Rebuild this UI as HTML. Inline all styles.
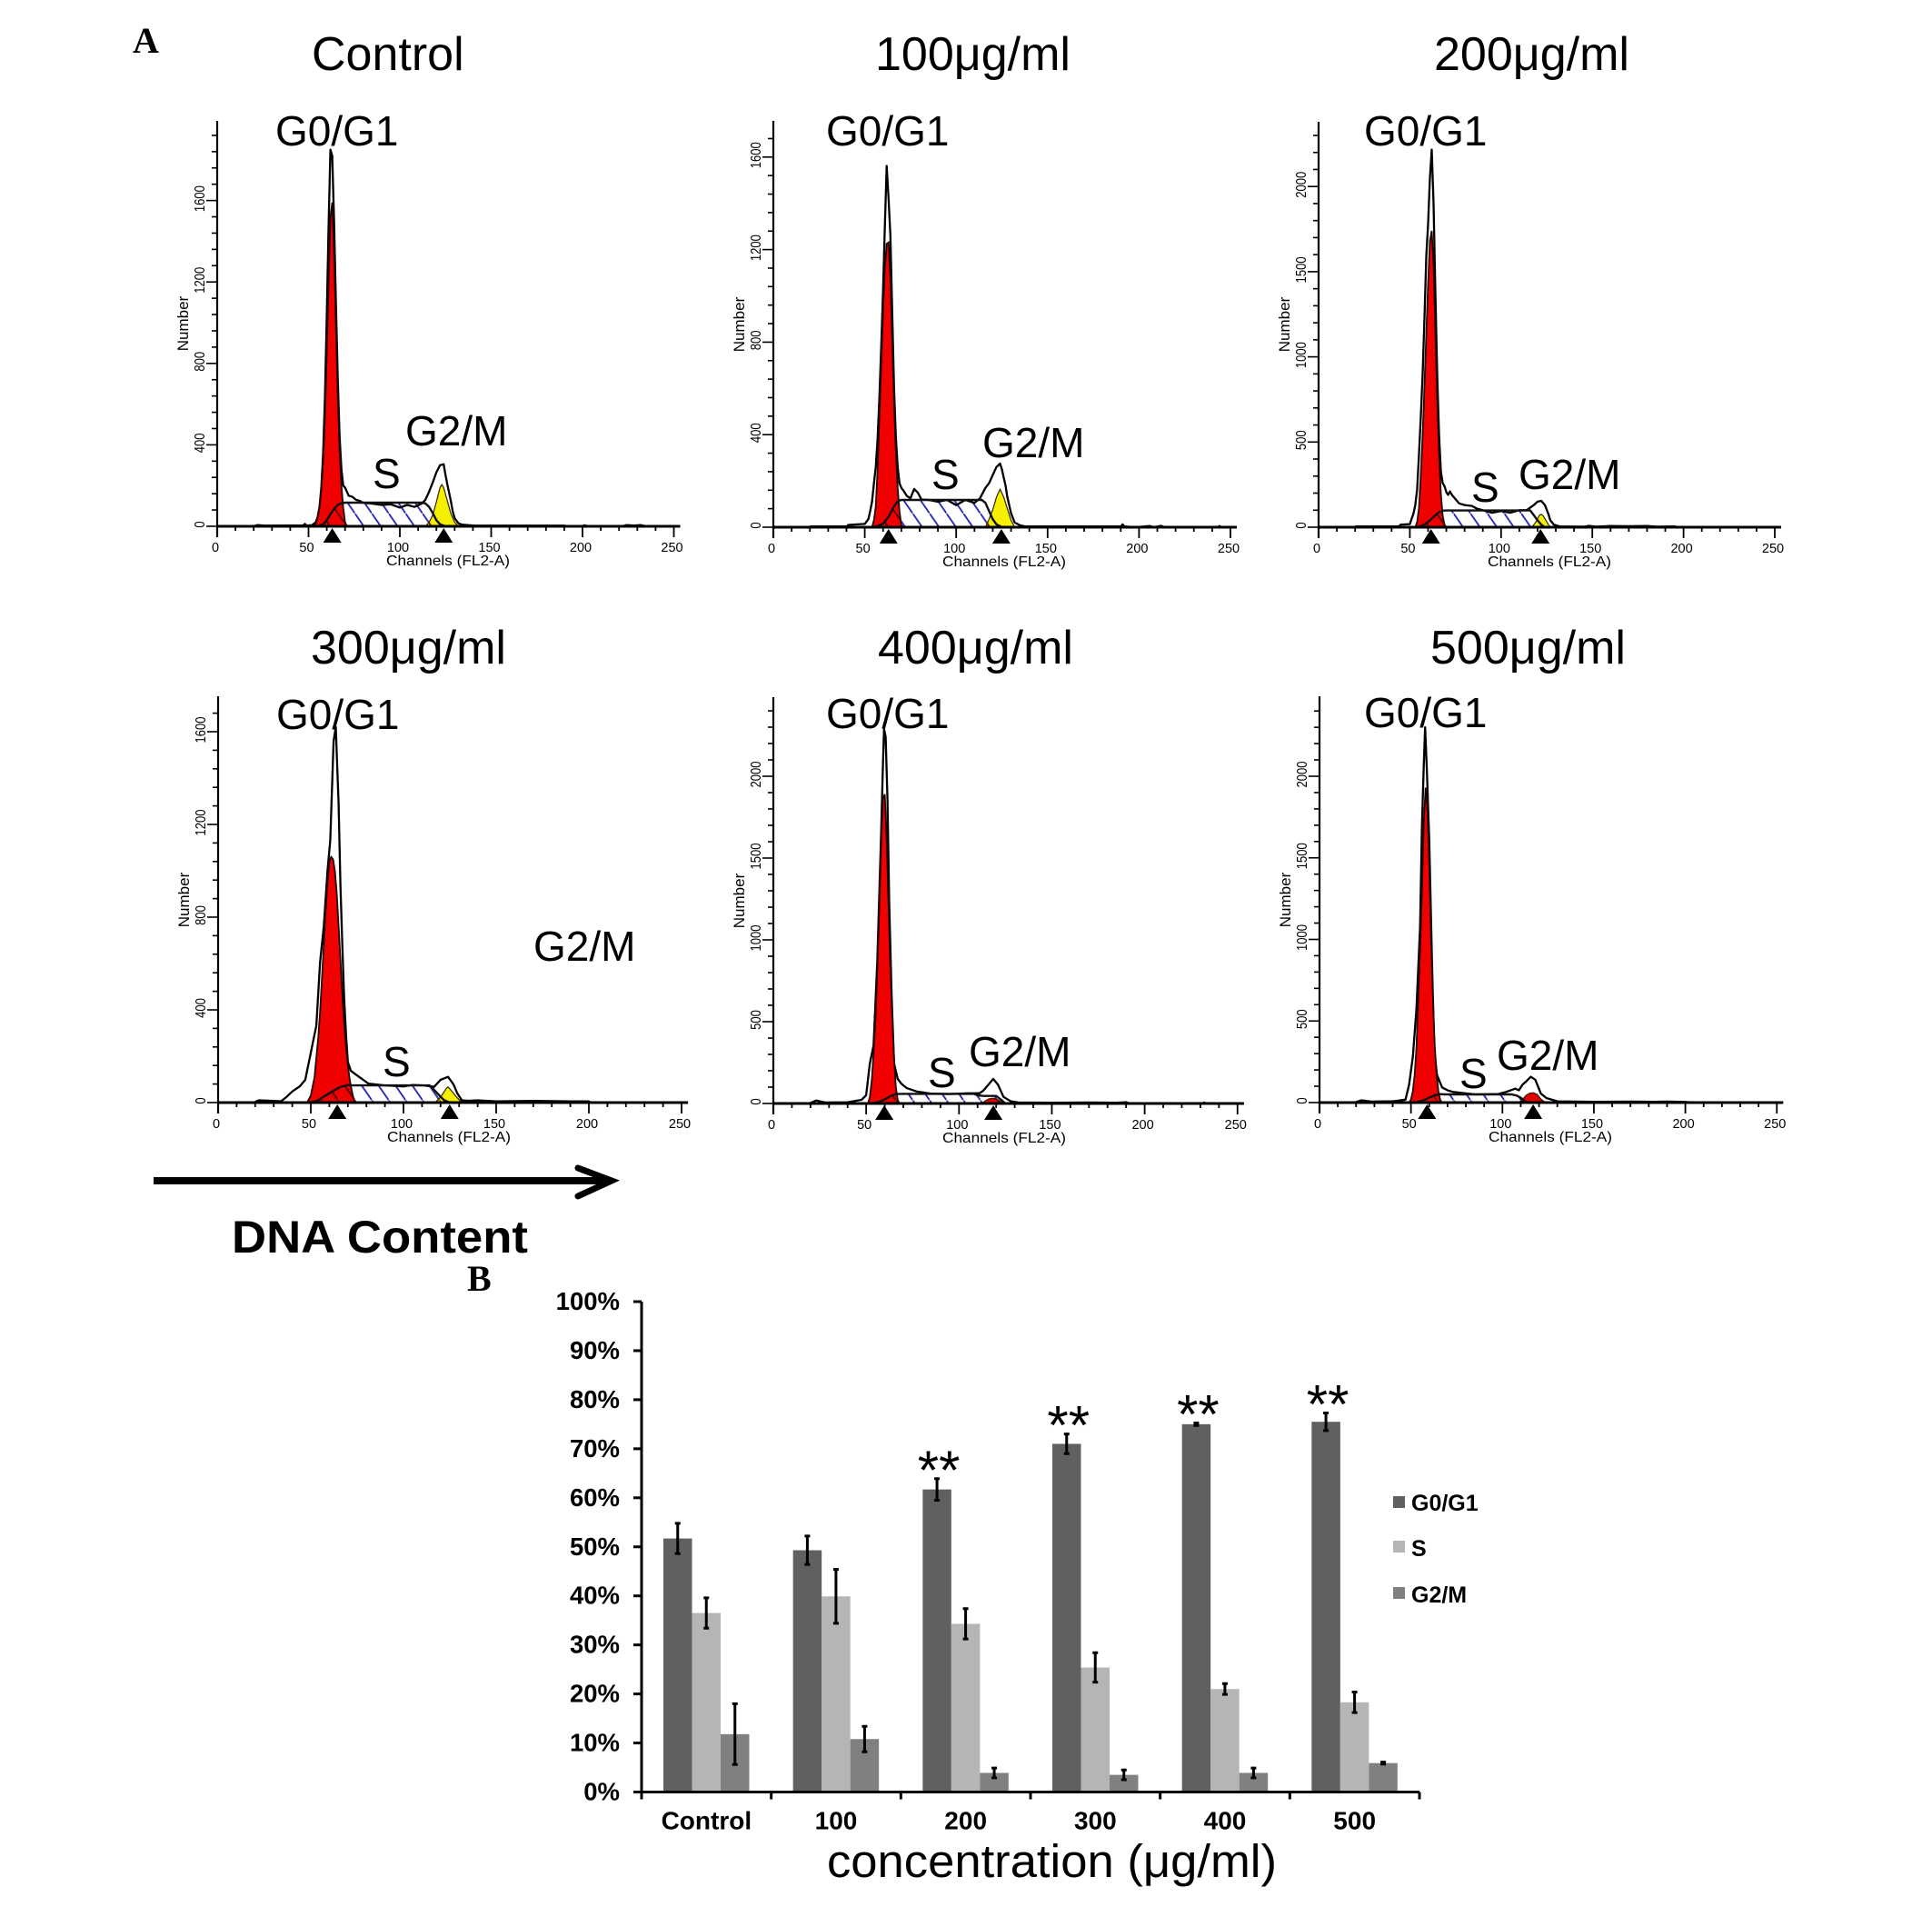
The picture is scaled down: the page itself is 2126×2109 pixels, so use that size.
<!DOCTYPE html>
<html lang="en">
<head>
<meta charset="utf-8">
<title>Cell cycle DNA content histograms and phase distribution</title>
<style>
html,body{margin:0;padding:0;background:#fff;}
svg{display:block;}
text{font-family:"Liberation Sans",sans-serif;fill:#000;}
.title{font-size:52px;}
.phase{font-size:46px;}
.serif{font-family:"Liberation Serif",serif;font-weight:bold;font-size:40px;}
.bold{font-weight:bold;}
</style>
</head>
<body>
<svg id="figure" xmlns="http://www.w3.org/2000/svg" width="2126" height="2109" viewBox="0 0 2126 2109">
<defs>
  <pattern id="hatch-blue" patternUnits="userSpaceOnUse" width="18.6" height="26.9">
    <rect width="18.6" height="26.9" fill="#fff"/>
    <line x1="-2" y1="-2.9" x2="20.6" y2="29.8" stroke="#2424b4" stroke-width="1.8"/>
  </pattern>
  <pattern id="hatch-dark" patternUnits="userSpaceOnUse" width="18.6" height="26.9">
    <line x1="-2" y1="-2.9" x2="20.6" y2="29.8" stroke="#4a0a00" stroke-width="1.8"/>
  </pattern>
</defs>
<rect width="2126" height="2109" fill="#fff"/>

<text class="serif" x="146" y="58">A</text>
<text class="serif" x="514" y="1420">B</text>

<text class="title" x="343" y="77">Control</text>
<text class="title" x="963" y="77">100μg/ml</text>
<text class="title" x="1578" y="77">200μg/ml</text>
<text class="title" x="342" y="730">300μg/ml</text>
<text class="title" x="966" y="730">400μg/ml</text>
<text class="title" x="1574" y="730">500μg/ml</text>

<g id="histograms"></g>

<g>
<text class="phase" x="303" y="160">G0/G1</text>
<text class="phase" x="410" y="537">S</text>
<text class="phase" x="446" y="490">G2/M</text>
<text class="phase" x="909" y="160">G0/G1</text>
<text class="phase" x="1025" y="538">S</text>
<text class="phase" x="1081" y="503">G2/M</text>
<text class="phase" x="1501" y="160">G0/G1</text>
<text class="phase" x="1619" y="552">S</text>
<text class="phase" x="1671" y="538">G2/M</text>
<text class="phase" x="304" y="802">G0/G1</text>
<text class="phase" x="421" y="1184">S</text>
<text class="phase" x="587" y="1057">G2/M</text>
<text class="phase" x="909" y="801">G0/G1</text>
<text class="phase" x="1021" y="1196">S</text>
<text class="phase" x="1066" y="1173">G2/M</text>
<text class="phase" x="1501" y="800">G0/G1</text>
<text class="phase" x="1606" y="1197">S</text>
<text class="phase" x="1647" y="1177">G2/M</text>
</g>

<g>
<line x1="169" y1="1299" x2="669" y2="1299" stroke="#000" stroke-width="8"/>
<polyline points="636,1285 673,1299 636,1316" fill="none" stroke="#000" stroke-width="7" stroke-linecap="round"/>
</g>
<text class="bold" x="255" y="1378" font-size="50" textLength="326" lengthAdjust="spacingAndGlyphs">DNA Content</text>

<g id="bar-chart"></g>
<text x="910" y="2065" font-size="51" textLength="495" lengthAdjust="spacingAndGlyphs">concentration (μg/ml)</text>

<g>
<rect x="1541" y="1654" width="13" height="13" fill="#606060" transform="translate(-8,-8)"/>
<text class="bold" x="1553" y="1670" font-size="25" transform="translate(0,-8)">G0/G1</text>
<rect x="1533" y="1695" width="13" height="13" fill="#b5b5b5"/>
<text class="bold" x="1553" y="1712" font-size="25">S</text>
<rect x="1533" y="1746" width="13" height="13" fill="#808080"/>
<text class="bold" x="1553" y="1763" font-size="25">G2/M</text>
</g>

<script>
// ---------- Histogram data: [channel, count] ----------
const controlOutline = [[20,0],[22,6],[26,3],[40,4],[47,4],[48,12],[49,3],[52,6],[54,20],[55,45],[56,95],[57,190],[58,360],[59,640],[60,1040],[61,1480],[62,1850],[63,1820],[64,1500],[65,1100],[66,720],[67,440],[68,280],[69,200],[70,190],[71,170],[72,150],[74,145],[76,130],[78,125],[80,115],[84,112],[90,105],[95,108],[100,92],[104,105],[108,95],[112,112],[114,130],[116,170],[118,215],[120,265],[122,300],[124,305],[125,250],[126,205],[128,120],[129,70],[130,40],[132,15],[134,8],[140,4],[190,3],[192,0],[200,0],[201,5],[203,0],[222,0],[224,6],[228,4],[232,6],[235,0]];
const controlG1 = [[53,0],[54,15],[55,45],[56,90],[57,180],[58,320],[59,540],[60,860],[61,1200],[62,1520],[63,1590],[64,1340],[65,1000],[66,640],[67,370],[68,200],[69,90],[70,20],[71,0]];
const controlS = [[55,0],[58,10],[60,30],[62,60],[64,85],[66,105],[68,114],[70,116],[112,116],[114,112],[116,95],[118,65],[120,30],[122,10],[125,0]];
const controlG2 = [[114,0],[116,20],[118,55],[120,120],[122,190],[123,205],[124,190],[126,125],[128,60],[130,20],[132,0]];
const controlPeaks = [63,124];

const d100Outline = [[20,3],[40,3],[41,10],[50,14],[52,35],[53,70],[54,110],[55,190],[56,260],[57,380],[58,560],[59,780],[60,1020],[61,1300],[62,1562],[63,1420],[64,1260],[65,930],[66,600],[67,390],[68,260],[69,190],[70,170],[71,160],[73,135],[75,125],[77,165],[79,150],[81,120],[85,118],[90,110],[95,118],[100,95],[105,118],[110,105],[113,125],[116,170],[118,190],[120,225],[122,260],[124,275],[125,250],[127,180],[128,130],[130,60],[132,20],[135,8],[138,3],[190,3],[191,12],[192,3],[198,0],[206,5],[208,0],[212,6],[214,0],[243,0],[244,5],[245,0]];
const d100G1 = [[54,0],[55,30],[56,90],[57,250],[58,480],[59,700],[60,930],[61,1120],[62,1225],[63,1231],[64,1080],[65,800],[66,540],[67,330],[68,170],[69,70],[70,10],[71,0]];
const d100S = [[55,0],[60,15],[63,45],[66,90],[68,112],[70,118],[114,118],[116,105],[118,70],[120,35],[122,12],[125,0]];
const d100G2 = [[116,0],[118,35],[120,75],[122,130],[124,164],[126,130],[128,80],[130,30],[132,0]];
const d100Peaks = [63,124.7];

const d200Outline = [[20,5],[44,5],[45,15],[50,18],[51,50],[52,80],[53,130],[54,220],[55,420],[56,640],[57,900],[58,1230],[59,1590],[60,1780],[61,2050],[62,2216],[63,1900],[64,1380],[65,900],[66,550],[67,330],[68,260],[69,240],[70,205],[71,190],[72,210],[73,190],[75,165],[77,140],[80,130],[84,125],[87,108],[90,100],[95,85],[100,95],[105,85],[110,100],[114,100],[116,115],[118,130],[120,150],[122,155],[124,130],[126,75],[127,40],[129,15],[132,5],[146,3],[148,8],[152,3],[160,7],[170,6],[180,7],[185,3],[195,5],[197,0]];
const d200G1 = [[53,0],[54,30],[55,110],[56,300],[57,540],[58,830],[59,1130],[60,1430],[61,1680],[62,1740],[63,1540],[64,1150],[65,760],[66,440],[67,200],[68,70],[69,10],[70,0]];
const d200S = [[54,0],[58,15],[61,40],[64,70],[66,88],[68,97],[70,98],[116,98],[118,70],[120,40],[122,15],[124,0]];
const d200G2 = [[117,0],[118,15],[119,30],[120,50],[121,70],[122,76],[123,68],[124,50],[125,32],[126,15],[127,0]];
const d200Peaks = [61.6,121.6];

const d300Outline = [[20,3],[22,10],[34,6],[37,25],[40,48],[44,70],[47,98],[50,215],[53,332],[55,605],[57,760],[59,1000],[60.5,1130],[62.3,1560],[63.5,1620],[65,1290],[66,940],[67,680],[68,450],[69,290],[70,175],[71.6,137],[75,117],[78,100],[81,82],[90,74],[100,70],[105,76],[111,74],[116.5,68],[120,98],[124,111],[127,78],[129,40],[131.5,10],[135,8],[140,10],[150,5],[170,7],[190,5],[200,5],[201,0]];
const d300G1 = [[48,0],[50,30],[52,110],[54,280],[55,390],[56,530],[57,680],[58,830],[59,950],[60,1040],[61,1060],[62,1050],[63,1000],[64,900],[65,760],[66,620],[67,470],[68,340],[69,240],[70,160],[71,100],[72,55],[73,20],[74,0]];
const d300S = [[50,0],[54,10],[58,30],[62,50],[66,68],[70,76],[72,74],[114,74],[116,60],[118,42],[120,25],[122,10],[125,0]];
const d300G2 = [[117,0],[119,15],[121,35],[123,60],[124,68],[126,50],[128,30],[130,12],[132,0]];
const d300Peaks = [64.3,124.9];

const d400Outline = [[20,4],[23,18],[28,6],[40,8],[47.5,22],[50,50],[52,245],[54,355],[56,870],[57,1260],[58,1630],[59,2050],[59.6,2290],[60.5,2240],[61.5,1855],[62.4,1225],[63.7,670],[65,245],[67,150],[69,120],[71.7,95],[77,74],[85,60],[95,58],[105,62],[111,62],[113,78],[116.6,125],[118.4,150],[121,115],[124,40],[128,13],[132,6],[150,5],[170,6],[185,5],[190,8],[192,0],[231,0],[232,6],[233,0]];
const d400G1 = [[51,0],[52,40],[53,140],[54,310],[55,520],[56,820],[57,1180],[58,1560],[59,1860],[60,1890],[61,1640],[62,1220],[63,850],[64,530],[65,280],[66,100],[67,20],[68,0]];
const d400S = [[53,0],[57,10],[60,25],[63,45],[66,58],[70,59],[108,59],[110,50],[113,46],[120,46],[123,20],[125,0]];
const d400G2 = [[112,0],[114,15],[116,28],[118,32],[120,28],[122,15],[124,5],[125,0]];
const d400Peaks = [59.8,118.5];

const d500Outline = [[20,4],[23,14],[28,6],[40,8],[47,18],[49,110],[51,280],[53,575],[55,1080],[56,1690],[57,2060],[57.7,2300],[58.6,2060],[60,1600],[61.5,855],[62.8,300],[64.3,167],[67,93],[70,75],[73,65],[85,50],[97.5,52],[102,65],[107,85],[109,75],[111,110],[113,130],[115.5,158],[118,140],[121,55],[124,28],[130,8],[150,5],[170,6],[183,5],[190,6],[200,4],[204,0]];
const d500G1 = [[49,0],[50,20],[51,70],[52,170],[53,340],[54,650],[55,950],[56,1280],[57,1720],[58,1930],[59,1800],[60,1440],[61,1000],[62,640],[63,350],[64,180],[65,70],[66,15],[67,0]];
const d500S = [[52,0],[56,10],[60,30],[63,45],[66,52],[68,50],[105,50],[108,42],[110,30],[112,10],[114,0]];
const d500G2 = [[109,0],[111,20],[113,45],[115,58],[117,60],[119,50],[121,22],[123,5],[124,0]];
const d500Peaks = [58.8,116.8];

const channelTicks = [0,50,100,150,200,250];
const countTicksLow = [0,400,800,1200,1600];
const countTicksHigh = [0,500,1000,1500,2000];

// ---------- Bar chart data ----------
const concentrations = ['Control','100','200','300','400','500'];
const g0g1Percent = [51.7,49.3,61.7,71,75,75.5];
const sPercent = [36.5,39.9,34.3,25.4,21,18.3];
const g2mPercent = [11.8,10.8,3.9,3.5,3.9,5.9];
const g0g1Error = [3.1,2.9,2.2,2,0.25,1.8];
const sError = [3.1,5.5,3.1,3,1.1,2.1];
const g2mError = [6.2,2.6,1,1,1,0.2];
const significance = ['','','**','**','**','**'];
const percentTicks = [0,10,20,30,40,50,60,70,80,90,100];

const SVGNS = 'http://www.w3.org/2000/svg';
function mk(tag, attrs, parent) {
  const n = document.createElementNS(SVGNS, tag);
  for (const k in attrs) n.setAttribute(k, attrs[k]);
  parent.appendChild(n);
  return n;
}

function drawHistogram(id, frame, outline, g1, sPhase, g2, peaks, countTicks, minorStep, g2Colour) {
  const x = ch => frame.x0 + ch * frame.pxPerChannel;
  const y = c => frame.y0 - c * frame.pxPerCount;
  const pts = arr => arr.map(p => x(p[0]).toFixed(1) + ',' + y(p[1]).toFixed(1)).join(' ');
  const root = document.getElementById('histograms');
  const g = mk('g', {}, root);
  
  

  const clip = mk('clipPath', {id: 'clip-' + id}, g);
  mk('polygon', {points: pts(g1)}, clip);
  mk('polygon', {points: pts(g2)}, clip);

  const sFill = mk('polygon', {points: pts(sPhase), fill: 'url(#hatch-blue)'}, g);
  
  

  const line = mk('polyline', {points: pts(outline), fill: 'none', stroke: '#000', 'stroke-width': 2.3, 'stroke-linejoin': 'round'}, g);
  
  

  const red = mk('polygon', {points: pts(g1), fill: '#f00000', stroke: '#200', 'stroke-width': 1.8}, g);
  
  

  const second = mk('polygon', {points: pts(g2), fill: g2Colour, stroke: '#320', 'stroke-width': 1.2}, g);
  
  

  const overlap = mk('polygon', {points: pts(sPhase), fill: 'url(#hatch-dark)', 'clip-path': 'url(#clip-' + id + ')'}, g);
  
  

  const sEdge = mk('polyline', {points: pts(sPhase), fill: 'none', stroke: '#111', 'stroke-width': 2.4}, g);
  
  

  const xAxis = mk('line', {x1: frame.x0, y1: frame.y0, x2: x(253.5), y2: frame.y0, stroke: '#000', 'stroke-width': 3}, g);
  
  
  const yAxis = mk('line', {x1: frame.x0, y1: frame.y0 + 12, x2: frame.x0, y2: frame.top, stroke: '#000', 'stroke-width': 2.2}, g);
  
  

  for (let ch = 0; ch <= 250; ch += 10) {
    const len = ch % 50 === 0 ? 12 : 5;
    const t = mk('line', {x1: x(ch), y1: frame.y0, x2: x(ch), y2: frame.y0 + len, stroke: '#000', 'stroke-width': 1.8}, g);
    
    
  }
  channelTicks.forEach(ch => {
    const t = mk('text', {x: x(ch) - 2, y: frame.y0 + 28, 'font-size': 14.5, 'text-anchor': 'middle'}, g);
    t.textContent = ch;
    
    
  });
  for (let c = 0; y(c) > frame.top + 2; c += minorStep) {
    const major = countTicks.indexOf(c) >= 0;
    const t = mk('line', {x1: frame.x0 - (major ? 12 : 6), y1: y(c), x2: frame.x0, y2: y(c), stroke: '#000', 'stroke-width': 1.6}, g);
    
    
  }
  countTicks.forEach(c => {
    const s = String(c);
    const t = mk('text', {'font-size': 16, 'text-anchor': 'middle', textLength: s.length * 7.25, lengthAdjust: 'spacingAndGlyphs',
      transform: 'translate(' + (frame.x0 - 14) + ',' + (y(c) - 2) + ') rotate(-90)'}, g);
    t.textContent = s;
    
    
  });
  peaks.forEach(ch => {
    const px = x(ch);
    const py = frame.y0 + 2;
    const m = mk('polygon', {points: px + ',' + py + ' ' + (px - 10) + ',' + (py + 16) + ' ' + (px + 10) + ',' + (py + 16), fill: '#000'}, g);
    
    
  });
  const xt = mk('text', {x: frame.x0 + 254, y: frame.y0 + 43, 'font-size': 16, 'text-anchor': 'middle', textLength: 136, lengthAdjust: 'spacingAndGlyphs'}, g);
  xt.textContent = 'Channels (FL2-A)';
  
  
  const yt = mk('text', {'font-size': 17, 'text-anchor': 'middle', transform: 'translate(' + (frame.x0 - 32) + ',' + (frame.y0 - 223) + ') rotate(-90)'}, g);
  yt.textContent = 'Number';
  
  
}

drawHistogram('control', {x0:239, y0:579, top:133, pxPerChannel:2.01, pxPerCount:0.224}, controlOutline, controlG1, controlS, controlG2, controlPeaks, countTicksLow, 80, '#f5f000');
drawHistogram('100', {x0:851, y0:580, top:133, pxPerChannel:2.012, pxPerCount:0.2545}, d100Outline, d100G1, d100S, d100G2, d100Peaks, countTicksLow, 80, '#f5f000');
drawHistogram('200', {x0:1451, y0:580, top:134, pxPerChannel:2.008, pxPerCount:0.1874}, d200Outline, d200G1, d200S, d200G2, d200Peaks, countTicksHigh, 100, '#f5f000');
drawHistogram('300', {x0:240, y0:1213, top:766, pxPerChannel:2.04, pxPerCount:0.255}, d300Outline, d300G1, d300S, d300G2, d300Peaks, countTicksLow, 80, '#f5f000');
drawHistogram('400', {x0:851, y0:1214, top:767, pxPerChannel:2.043, pxPerCount:0.18}, d400Outline, d400G1, d400S, d400G2, d400Peaks, countTicksHigh, 100, '#e00000');
drawHistogram('500', {x0:1452, y0:1213, top:766, pxPerChannel:2.013, pxPerCount:0.1795}, d500Outline, d500G1, d500S, d500G2, d500Peaks, countTicksHigh, 100, '#e00000');

// ---------- Bar chart ----------
(function drawBars() {
  const root = document.getElementById('bar-chart');
  const left = 706, right = 1562, zero = 1971.5, full = 1432;
  const groupW = (right - left) / concentrations.length;
  const barW = 31.5, inset = 24;
  const yPct = v => zero - v / 100 * (zero - full);

  const ay = mk('line', {x1: left, y1: full, x2: left, y2: zero + 1.5, stroke: '#000', 'stroke-width': 3}, root);
  
  

  percentTicks.forEach(v => {
    const t = mk('line', {x1: left - 9, y1: yPct(v), x2: left, y2: yPct(v), stroke: '#000', 'stroke-width': 3}, root);
    
    
    const l = mk('text', {x: 682, y: yPct(v) + 9, 'font-size': 27.5, 'font-weight': 'bold', 'text-anchor': 'end'}, root);
    l.textContent = v + '%';
    
    
  });

  const series = [
    {values: g0g1Percent, errors: g0g1Error, colour: '#606060'},
    {values: sPercent, errors: sError, colour: '#b5b5b5'},
    {values: g2mPercent, errors: g2mError, colour: '#808080'}
  ];

  concentrations.forEach((label, i) => {
    const gx = left + i * groupW;
    series.forEach((s, j) => {
      const bx = gx + inset + j * barW;
      const bar = mk('rect', {x: bx, y: yPct(s.values[i]), width: barW, height: zero - yPct(s.values[i]), fill: s.colour}, root);
      
      
    });
    series.forEach((s, j) => {
      const cx = gx + inset + j * barW + barW / 2;
      const hi = yPct(s.values[i] + s.errors[i]);
      const lo = yPct(s.values[i] - s.errors[i]);
      const e = mk('path', {d: 'M' + cx + ' ' + hi + 'V' + lo + 'M' + (cx - 3) + ' ' + hi + 'H' + (cx + 3) + 'M' + (cx - 3) + ' ' + lo + 'H' + (cx + 3), stroke: '#000', 'stroke-width': 3, fill: 'none'}, root);
      
      
    });
    if (significance[i]) {
      const sx = gx + inset + barW / 2 + 2;
      const st = mk('text', {x: sx, y: yPct(g0g1Percent[i] + g0g1Error[i]) + 11, 'font-size': 60, 'text-anchor': 'middle'}, root);
      st.textContent = significance[i];
      
      
    }
    const tick = mk('line', {x1: gx, y1: zero, x2: gx, y2: zero + 8, stroke: '#000', 'stroke-width': 3}, root);
    
    
    const tl = mk('text', {x: gx + groupW / 2, y: zero + 41, 'font-size': 28, 'font-weight': 'bold', 'text-anchor': 'middle'}, root);
    tl.textContent = label;
    
    
  });
  const lastTick = mk('line', {x1: right, y1: zero, x2: right, y2: zero + 8, stroke: '#000', 'stroke-width': 3}, root);
  
  
  const ax = mk('line', {x1: left, y1: zero, x2: right, y2: zero, stroke: '#000', 'stroke-width': 3}, root);
  
  
})();
</script>
</svg>
</body>
</html>
